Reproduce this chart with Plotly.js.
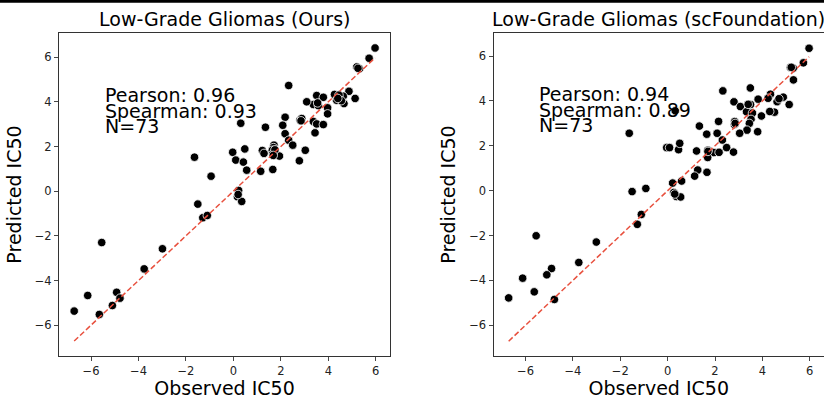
<!DOCTYPE html>
<html>
<head>
<meta charset="utf-8">
<script src="https://cdn.plot.ly/plotly-3.0.1.min.js"></script>
<style>
html, body { margin: 0; padding: 0; background: #ffffff; }
#chart { width: 824px; height: 399px; }
</style>
</head>
<body>
<div id="chart"></div>
<script>
// ---- Data: Low-Grade Gliomas (Ours) ----
const oursObserved = [5.97, 5.72, 5.20, 5.31, 2.33, 4.87, 5.13, 4.63, 4.26, 4.35, 4.66, 3.51, 3.79, 3.37, 3.58, 3.09, 3.97, 3.97,
  2.18, 2.08, 2.81, 2.88, 3.37, 3.51, 3.79, 3.44, 2.18, 0.31, 1.35, 2.33, 2.50, 1.71, 1.69, 1.64, 1.22, 1.29, 1.94, 1.66,
  3.03, 2.78, 1.66, 1.15, 0.48, -0.03, 0.10, 0.42, 0.56, -1.64, -0.94, 0.22, 0.17, -1.50, -1.29, -1.10, 0.35, -5.55,
  -2.99, -3.76, -6.14, -4.92, -4.78, -5.10, -5.65, -6.71, 4.45, 4.55, 1.75, 1.68, 2.85, 4.40, 0.20, 3.55, 5.25];
const oursPredicted = [6.41, 5.95, 5.56, 5.48, 4.73, 4.47, 4.15, 4.25, 4.33, 4.07, 3.92, 4.28, 4.20, 3.88, 3.83, 4.00, 3.73, 3.46,
  3.31, 2.95, 3.18, 3.25, 3.12, 3.01, 2.98, 2.61, 2.57, 3.04, 2.86, 2.28, 2.06, 2.06, 1.95, 1.83, 1.82, 1.69, 1.57, 1.67,
  1.83, 1.36, 0.97, 0.89, 1.89, 1.74, 1.39, 1.30, 0.94, 1.52, 0.67, 0.03, -0.25, -0.58, -1.19, -1.09, -0.46, -2.30,
  -2.58, -3.48, -4.67, -4.53, -4.79, -5.12, -5.52, -5.37, 4.30, 4.05, 1.85, 1.60, 3.15, 4.15, -0.15, 3.95, 5.50];

// ---- Data: Low-Grade Gliomas (scFoundation) ----
const scfObserved = [5.97, 5.73, 5.18, 5.30, 5.31, 5.13, 4.88, 4.62, 4.34, 4.24, 4.51, 4.31, 3.82, 3.49, 2.33, 2.80, 3.07, 3.50,
  3.33, 3.58, 3.96, 3.52, 3.45, 3.35, 3.80, 2.83, 2.82, 2.15, 2.09, 1.65, 2.31, 1.34, 2.49, 2.78, 1.95, 2.17, 1.70, 1.69,
  1.22, 1.27, 1.66, 1.14, 3.04, -1.62, -0.04, 0.08, 0.46, 0.51, 0.32, 0.21, 0.59, -1.50, -0.92, 0.26, 0.37, 0.55, -1.11,
  -1.28, -5.55, -3.01, -3.75, -4.90, -5.10, -6.12, -5.63, -4.78, -6.71, 5.22, 4.70, 3.40, 1.70, 0.30, 2.85];
const scfPredicted = [6.35, 5.70, 5.49, 5.46, 4.94, 3.84, 4.17, 3.97, 4.30, 4.12, 3.50, 3.53, 4.08, 4.58, 4.45, 3.96, 3.75, 3.84,
  3.52, 3.46, 3.33, 3.18, 3.00, 2.70, 2.63, 3.08, 2.95, 3.09, 2.56, 2.52, 2.26, 2.88, 1.92, 1.72, 1.70, 1.71, 1.80, 1.48,
  1.77, 0.92, 0.82, 0.65, 2.56, 2.56, 1.92, 1.92, 1.83, 2.11, 3.56, 0.34, 0.43, -0.04, 0.10, -0.08, -0.26, -0.28, -1.06,
  -1.50, -2.01, -2.29, -3.20, -3.47, -3.75, -3.90, -4.51, -4.85, -4.78, 5.50, 4.10, 3.85, 1.75, -0.15, 3.00];

// ---- Text ----
const panelTitles = ["Low-Grade Gliomas (Ours)", "Low-Grade Gliomas (scFoundation)"];
const statLines = [
  ["Pearson: 0.96", "Spearman: 0.93", "N=73"],
  ["Pearson: 0.94", "Spearman: 0.89", "N=73"]
];
const statY = [4.30, 3.61, 2.92];
const statX = -5.47;
const xLabel = "Observed IC50";
const yLabel = "Predicted IC50";
const tickValues = [-6, -4, -2, 0, 2, 4, 6];

const FONT = "DejaVu Sans, sans-serif";
const RED = "#e8503e";

function minMax(arr) { return [Math.min(...arr), Math.max(...arr)]; }

function scatterTrace(x, y, xa, ya) {
  return {
    type: "scatter", mode: "markers", x: x, y: y, xaxis: xa, yaxis: ya,
    marker: { color: "#000000", size: 8.5, line: { color: "#ffffff", width: 0.8 } },
    hoverinfo: "skip", showlegend: false, cliponaxis: true
  };
}
function diagTrace(obs, xa, ya) {
  const mm = minMax(obs);
  return {
    type: "scatter", mode: "lines", x: mm, y: mm, xaxis: xa, yaxis: ya,
    line: { color: RED, width: 1.5, dash: "5.5px,2.6px" },
    hoverinfo: "skip", showlegend: false
  };
}

const traces = [
  scatterTrace(oursObserved, oursPredicted, "x", "y"),
  diagTrace(oursObserved, "x", "y"),
  scatterTrace(scfObserved, scfPredicted, "x2", "y2"),
  diagTrace(scfObserved, "x2", "y2")
];

function axisStyle(extra) {
  return Object.assign({
    showgrid: false, zeroline: false, showline: true, mirror: true,
    linecolor: "#333333", linewidth: 1,
    ticks: "outside", ticklen: 4, tickwidth: 0.9, tickcolor: "#333333",
    tickmode: "array", tickvals: tickValues,
    tickfont: { family: FONT, size: 11.5, color: "#222222" },
    automargin: false
  }, extra);
}

const W = 824, L = 59, R = 0, T = 33, B = 43;
const plotW = W - L - R;
const TITLE_SIZE = 19;
const layout = {
  width: 824, height: 399,
  margin: { l: L, r: R, t: T, b: B, pad: 0 },
  paper_bgcolor: "#ffffff", plot_bgcolor: "#ffffff",
  font: { family: FONT, color: "#000000" },
  xaxis: axisStyle({ domain: [0, (390 - L) / plotW], range: [-7.35, 6.6], anchor: "y",
    title: { text: xLabel, font: { family: FONT, size: TITLE_SIZE, color: "#000" }, standoff: 6 } }),
  yaxis: axisStyle({ domain: [0, 1], range: [-7.38, 7.08], anchor: "x",
    title: { text: yLabel, font: { family: FONT, size: TITLE_SIZE, color: "#000" }, standoff: 8 } }),
  xaxis2: axisStyle({ domain: [(493.5 - L) / plotW, 1], range: [-7.35, 6.6], anchor: "y2",
    title: { text: xLabel, font: { family: FONT, size: TITLE_SIZE, color: "#000" }, standoff: 6 } }),
  yaxis2: axisStyle({ domain: [0, 1], range: [-7.37, 7.03], anchor: "x2",
    title: { text: yLabel, font: { family: FONT, size: TITLE_SIZE, color: "#000" }, standoff: 8 } }),
  shapes: [
    { type: "rect", xref: "paper", yref: "paper", x0: -L / plotW, x1: 1,
      y0: 1 + (T - 2.7) / 323, y1: 1 + T / 323 + 0.01,
      fillcolor: "#000000", line: { width: 0 }, layer: "above" }
  ],
  annotations: []
};

const axPairs = [["x", "y"], ["x2", "y2"]];
axPairs.forEach(function (p, i) {
  layout.annotations.push({
    xref: p[0] + " domain", yref: p[1] + " domain", x: 0.5, y: 1,
    xanchor: "center", yanchor: "bottom", yshift: 1, showarrow: false,
    text: panelTitles[i], font: { family: FONT, size: TITLE_SIZE, color: "#000" }
  });
  statLines[i].forEach(function (t, j) {
    layout.annotations.push({
      xref: p[0], yref: p[1], x: statX, y: statY[j],
      xanchor: "left", yanchor: "middle", showarrow: false, borderpad: 0,
      text: t, font: { family: FONT, size: TITLE_SIZE, color: "#000" }
    });
  });
});

Plotly.newPlot("chart", traces, layout, { staticPlot: true, displayModeBar: false });
</script>
</body>
</html>
